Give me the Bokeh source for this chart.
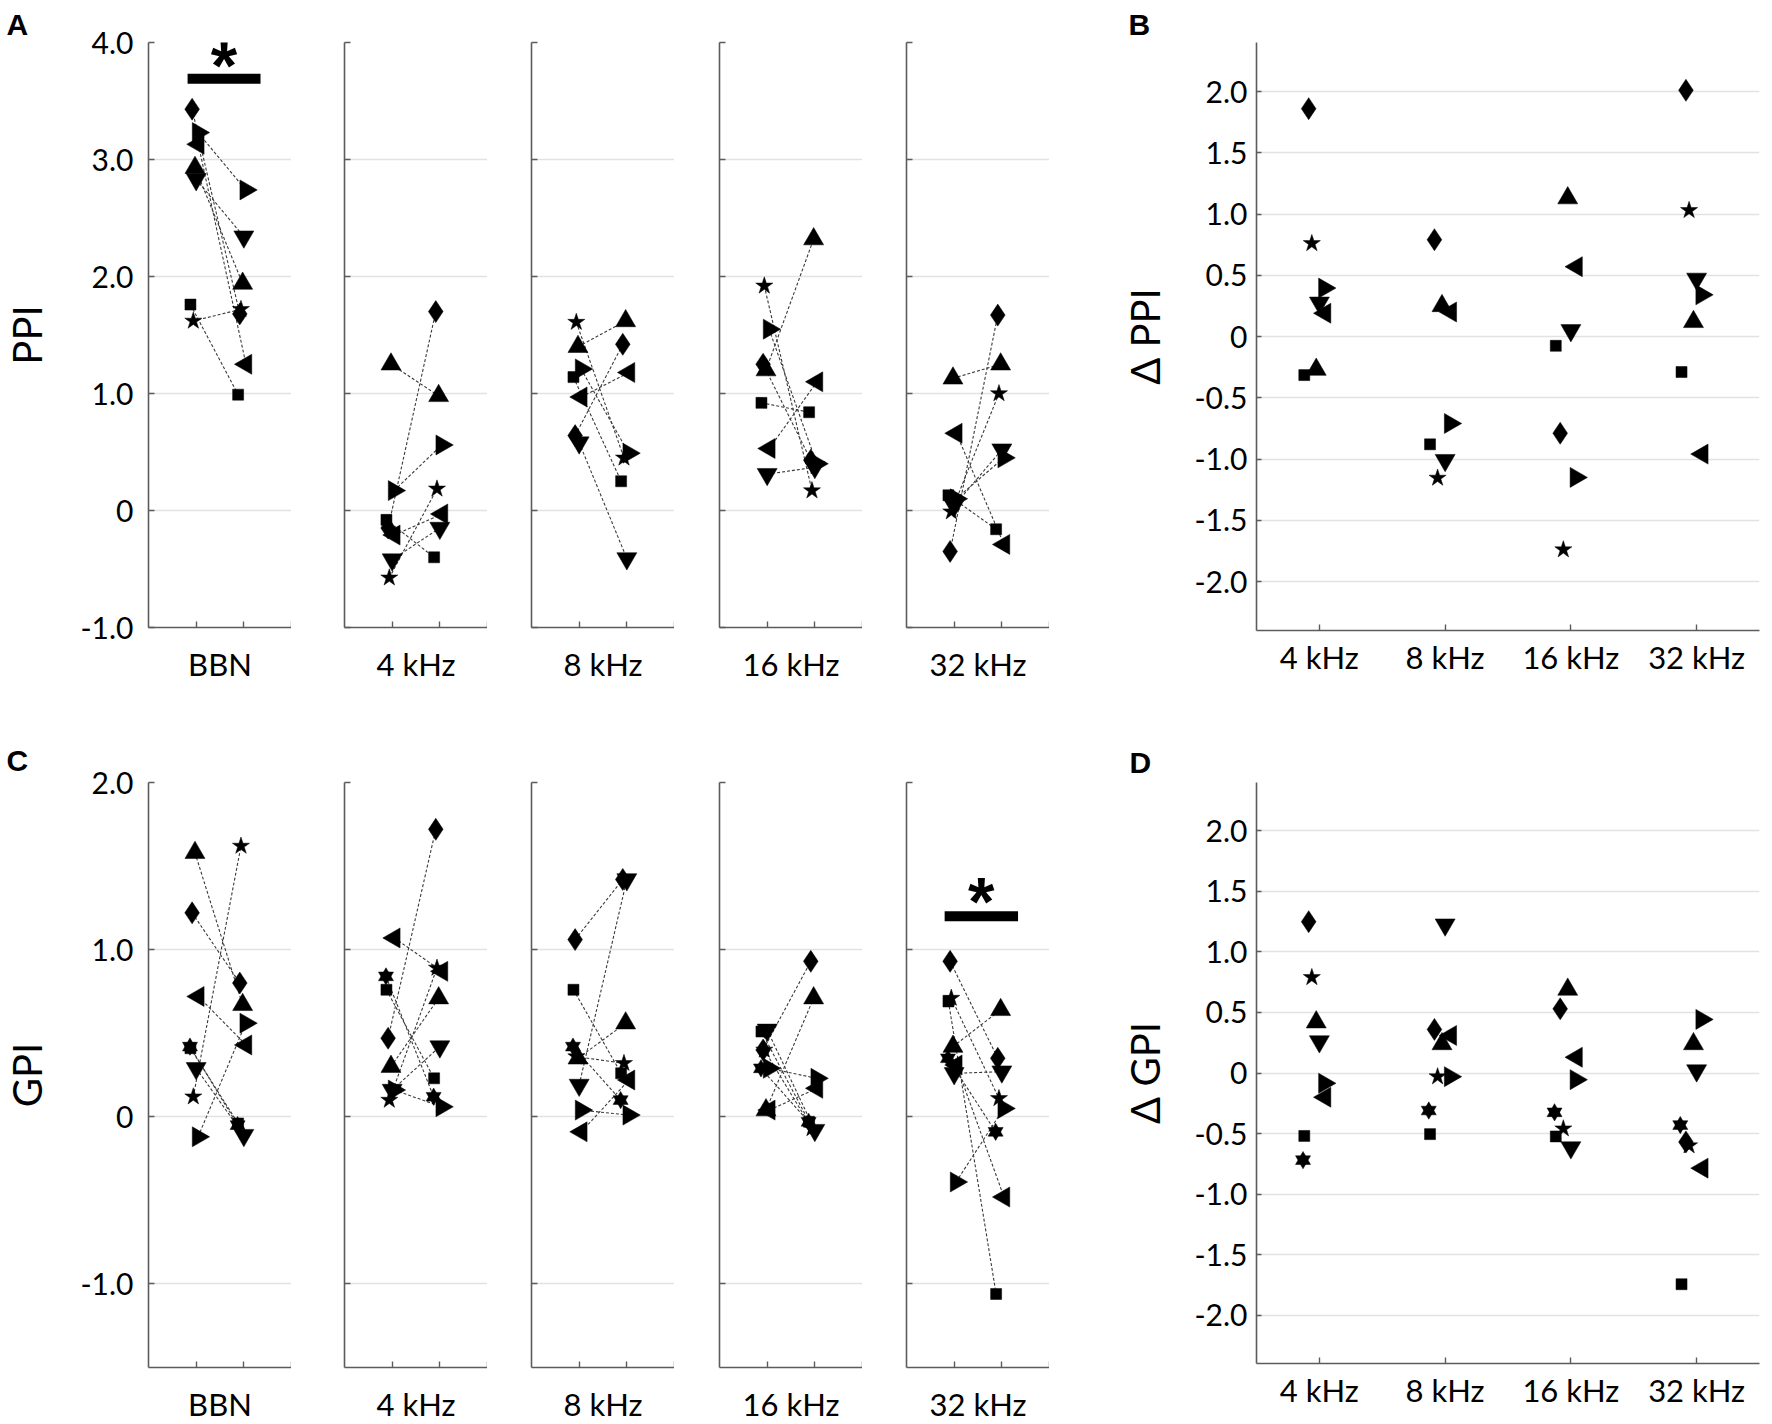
import numpy as np
from bokeh.plotting import figure
from bokeh.layouts import row, column
from bokeh.models import FixedTicker, Range1d, Title
from bokeh.embed import file_html
from bokeh.resources import INLINE
from bokeh.core.properties import value

# ---------------- data ----------------
subjects = ["diamond", "right", "left", "up", "down", "square", "star", "hexagram"]
# per-subject horizontal offset of the marker from its column (data units)
subject_jitter = [-0.085, 0.04, 0.045, -0.025, 0.0, -0.12, -0.06, -0.13]

conditions_ac = ["BBN", "4 kHz", "8 kHz", "16 kHz", "32 kHz"]
conditions_bd = ["4 kHz", "8 kHz", "16 kHz", "32 kHz"]

# Panel A: PPI, left column (pre) and right column (post); 7 subjects
ppi_pre_bbn = [3.43, 3.23, 3.13, 2.93, 2.83, 1.76, 1.62]
ppi_post_bbn = [1.68, 2.74, 1.25, 1.94, 2.34, 0.99, 1.72]
ppi_pre_4k = [-0.15, 0.17, -0.21, 1.25, -0.42, -0.08, -0.575]
ppi_post_4k = [1.70, 0.56, -0.03, 0.98, -0.15, -0.40, 0.185]
ppi_pre_8k = [0.64, 1.21, 0.97, 1.40, 0.58, 1.14, 1.61]
ppi_post_8k = [1.42, 0.49, 1.18, 1.62, -0.41, 0.25, 0.45]
ppi_pre_16k = [1.25, 1.55, 0.53, 1.20, 0.31, 0.92, 1.92]
ppi_post_16k = [0.43, 0.40, 1.10, 2.32, 0.37, 0.84, 0.17]
ppi_pre_32k = [-0.35, 0.10, 0.66, 1.13, 0.04, 0.13, -0.01]
ppi_post_32k = [1.67, 0.45, -0.29, 1.25, 0.52, -0.16, 1.00]

# Panel B: delta PPI
dppi_4k = [1.86, 0.395, 0.19, -0.27, 0.275, -0.315, 0.76]
dppi_8k = [0.79, -0.71, 0.20, 0.25, -1.01, -0.88, -1.155]
dppi_16k = [-0.79, -1.15, 0.57, 1.13, 0.05, -0.076, -1.74]
dppi_32k = [2.01, 0.34, -0.96, 0.12, 0.47, -0.29, 1.03]

# Panel C: GPI; 8 subjects
gpi_pre_bbn = [1.22, -0.12, 0.72, 1.58, 0.29, 0.41, 0.12, 0.42]
gpi_post_bbn = [0.80, 0.56, 0.43, 0.67, -0.11, -0.04, 1.62, -0.05]
gpi_pre_4k = [0.47, 0.16, 1.07, 0.30, 0.16, 0.76, 0.10, 0.84]
gpi_post_4k = [1.72, 0.06, 0.87, 0.71, 0.42, 0.23, 0.89, 0.12]
gpi_pre_8k = [1.06, 0.04, -0.09, 0.35, 0.19, 0.76, 0.36, 0.42]
gpi_post_8k = [1.42, 0.01, 0.22, 0.56, 1.42, 0.26, 0.32, 0.10]
gpi_pre_16k = [0.40, 0.29, 0.04, 0.04, 0.52, 0.51, 0.40, 0.29]
gpi_post_16k = [0.93, 0.23, 0.17, 0.71, -0.08, -0.03, -0.07, -0.03]
gpi_pre_32k = [0.93, -0.39, 0.31, 0.42, 0.26, 0.69, 0.71, 0.35]
gpi_post_32k = [0.35, 0.05, -0.48, 0.64, 0.27, -1.06, 0.11, -0.09]

# Panel D: delta GPI
dgpi_4k = [1.25, -0.085, -0.20, 0.42, 0.26, -0.52, 0.79, -0.72]
dgpi_8k = [0.36, -0.03, 0.31, 0.24, 1.225, -0.505, -0.03, -0.31]
dgpi_16k = [0.53, -0.055, 0.13, 0.69, -0.616, -0.524, -0.46, -0.325]
dgpi_32k = [-0.57, 0.443, -0.786, 0.24, 0.02, -1.745, -0.60, -0.43]

ppi_pre = [ppi_pre_bbn, ppi_pre_4k, ppi_pre_8k, ppi_pre_16k, ppi_pre_32k]
ppi_post = [ppi_post_bbn, ppi_post_4k, ppi_post_8k, ppi_post_16k, ppi_post_32k]
gpi_pre = [gpi_pre_bbn, gpi_pre_4k, gpi_pre_8k, gpi_pre_16k, gpi_pre_32k]
gpi_post = [gpi_post_bbn, gpi_post_4k, gpi_post_8k, gpi_post_16k, gpi_post_32k]
dppi = [dppi_4k, dppi_8k, dppi_16k, dppi_32k]
dgpi = [dgpi_4k, dgpi_8k, dgpi_16k, dgpi_32k]

# significance markers: (condition, bar start, bar end, bar level, asterisk level)
sig_ppi = ("BBN", 0.82, 2.35, 3.69, 3.89)
sig_gpi = ("32 kHz", 0.80, 2.34, 1.20, 1.35)

ppi_ticks = [-1, 0, 1, 2, 3, 4]
gpi_ticks = [-1, 0, 1, 2]
delta_ticks = [-2, -1.5, -1, -0.5, 0, 0.5, 1, 1.5, 2]

# ---------------- styles ----------------
FONT = "Lato"
AX_COLOR = "#5c5c5c"
GRID_COLOR = "#e2e2e2"
TICK_FS = "30px"
CAT_FS = "31px"
YLAB_FS = "40px"
PANEL_FS = "30px"
ASTER_FS = 68
ASTER_DY = 10

MARKER_STYLE = {
    "diamond": [("diamond", 22, 0.0)],
    "right": [("triangle", 20, -np.pi / 2)],
    "left": [("triangle", 20, np.pi / 2)],
    "up": [("triangle", 20, 0.0)],
    "down": [("inverted_triangle", 20, 0.0)],
    "square": [("square", 11, 0.0)],
    "star": [("star", 18, 0.0)],
    "hexagram": [("triangle", 15, 0.0), ("inverted_triangle", 15, 0.0)],
}


def fmt(v):
    return "0" if v == 0 else f"{v:.1f}"


def draw_points(p, xs, ys):
    for k, (x, y) in enumerate(zip(xs, ys)):
        for marker, size, angle in MARKER_STYLE[subjects[k]]:
            p.scatter(x=[x], y=[y], marker=marker, size=size, angle=angle,
                      fill_color="black", line_color="black", line_width=0.5)


def panel_letter(p, letter, offset, standoff):
    t = Title(text=letter, align="left", offset=offset, standoff=standoff,
              vertical_align="top", text_font="Liberation Sans",
              text_font_style="bold", text_font_size=PANEL_FS,
              text_color="black")
    p.add_layout(t, "above")


def base_style(p):
    p.outline_line_color = None
    p.background_fill_color = "white"
    p.border_fill_color = "white"
    p.xgrid.visible = False
    for ax in (p.xaxis[0], p.yaxis[0]):
        ax.axis_line_color = AX_COLOR
        ax.axis_line_width = 1.6
        ax.major_tick_line_color = AX_COLOR
        ax.major_tick_line_width = 1.4
        ax.minor_tick_line_color = AX_COLOR
        ax.minor_tick_line_width = 1.4
        ax.major_label_text_font = FONT
        ax.major_label_text_color = "black"
        ax.axis_label_text_font = FONT
        ax.axis_label_text_font_style = "normal"
        ax.axis_label_text_color = "black"
        ax.axis_label_text_font_size = YLAB_FS
    p.ygrid.grid_line_color = GRID_COLOR
    p.ygrid.grid_line_width = 1.5


def paired_fig(ci, pre, post, yr, yticks, left_border, top_border,
               bottom_border, cat_standoff, ylabel, sig):
    cond = conditions_ac[ci]
    p = figure(frame_width=143, frame_height=585, x_range=Range1d(0, 3),
               y_range=Range1d(*yr), output_backend="svg", toolbar_location=None,
               min_border_left=left_border, min_border_right=0,
               min_border_top=top_border, min_border_bottom=bottom_border)
    base_style(p)
    p.ygrid.ticker = FixedTicker(ticks=yticks)
    xa = p.xaxis[0]
    xa.ticker = FixedTicker(ticks=[1.5], minor_ticks=[1, 2, 3])
    xa.major_label_overrides = {1.5: cond}
    xa.major_tick_in = 0
    xa.major_tick_out = 0
    xa.minor_tick_in = 6
    xa.minor_tick_out = 0
    xa.major_label_text_font_size = CAT_FS
    xa.major_label_standoff = cat_standoff
    ya = p.yaxis[0]
    ya.ticker = FixedTicker(ticks=yticks)
    ya.major_tick_in = 6
    ya.major_tick_out = 0
    ya.minor_tick_in = 0
    ya.minor_tick_out = 0
    if ylabel is not None:
        ya.major_label_overrides = {t: fmt(t) for t in yticks}
        ya.major_label_text_font_size = TICK_FS
        ya.major_label_standoff = 15
        ya.axis_label = ylabel
        ya.axis_label_standoff = 26
    else:
        ya.major_label_overrides = {t: "" for t in yticks}
        ya.major_label_text_font_size = "1px"
        ya.major_label_standoff = 0

    x_pre = [1 + subject_jitter[k] for k in range(len(pre))]
    x_post = [2 + subject_jitter[k] for k in range(len(post))]
    p.segment(x0=x_pre, y0=pre, x1=x_post, y1=post, line_color="#3a3a3a",
              line_width=1.1, line_dash="3 2")
    draw_points(p, x_pre, pre)
    draw_points(p, x_post, post)

    if sig is not None and sig[0] == cond:
        _, x0, x1, yb, ys = sig
        p.segment(x0=[x0], y0=[yb], x1=[x1], y1=[yb], line_color="black",
                  line_width=10, line_cap="butt")
        p.text(x=[(x0 + x1) / 2], y=[ys], text=["*"],
               text_font=value("Liberation Sans"), text_font_style="bold",
               text_font_size=f"{ASTER_FS}px", text_align="center",
               text_baseline="alphabetic", y_offset=ASTER_DY)
    return p


def delta_fig(vals, top_border, frame_h, bottom_border, ylabel):
    p = figure(frame_width=503, frame_height=frame_h, x_range=Range1d(0.5, 4.5),
               y_range=Range1d(-2.4, 2.4), output_backend="svg",
               toolbar_location=None, min_border_left=207, min_border_right=10,
               min_border_top=top_border, min_border_bottom=bottom_border)
    base_style(p)
    p.ygrid.ticker = FixedTicker(ticks=delta_ticks)
    xa = p.xaxis[0]
    xa.ticker = FixedTicker(ticks=[1, 2, 3, 4])
    xa.major_label_overrides = {i + 1: c for i, c in enumerate(conditions_bd)}
    xa.major_tick_in = 6
    xa.major_tick_out = 0
    xa.minor_tick_in = 0
    xa.minor_tick_out = 0
    xa.major_label_text_font_size = CAT_FS
    xa.major_label_standoff = 7
    ya = p.yaxis[0]
    ya.ticker = FixedTicker(ticks=delta_ticks)
    ya.major_label_overrides = {t: fmt(t) for t in delta_ticks}
    ya.major_tick_in = 5
    ya.major_tick_out = 0
    ya.minor_tick_in = 0
    ya.minor_tick_out = 0
    ya.major_label_text_font_size = TICK_FS
    ya.major_label_standoff = 9
    ya.axis_label = ylabel
    ya.axis_label_standoff = 22
    for ci, v in enumerate(vals):
        xs = [ci + 1 + subject_jitter[k] for k in range(len(v))]
        draw_points(p, xs, v)
    return p


# ---------------- layout ----------------
left_borders = [144, 53, 44, 45, 44]

row1 = []
for ci in range(5):
    p = paired_fig(ci, ppi_pre[ci], ppi_post[ci], (-1, 4), ppi_ticks,
                   left_borders[ci], 42, 103, 17,
                   "PPI" if ci == 0 else None, sig_ppi)
    row1.append(p)
panel_letter(row1[0], "A", -142, 0)

pB = delta_fig(dppi, 36, 588, 106, "\u0394 PPI")
panel_letter(pB, "B", -128, 0)
row1.append(pB)

row2 = []
for ci in range(5):
    p = paired_fig(ci, gpi_pre[ci], gpi_post[ci], (-1.5, 2), gpi_ticks,
                   left_borders[ci], 52, 57, 17,
                   "GPI" if ci == 0 else None, sig_gpi)
    row2.append(p)
panel_letter(row2[0], "C", -142, 8)

pD = delta_fig(dgpi, 46, 581, 67, "\u0394 GPI")
panel_letter(pD, "D", -127, 4)
row2.append(pD)

layout = column(row(*row1, spacing=0), row(*row2, spacing=0), spacing=0)

open("out.html", "w").write(file_html(layout, INLINE, "PPI and GPI"))
